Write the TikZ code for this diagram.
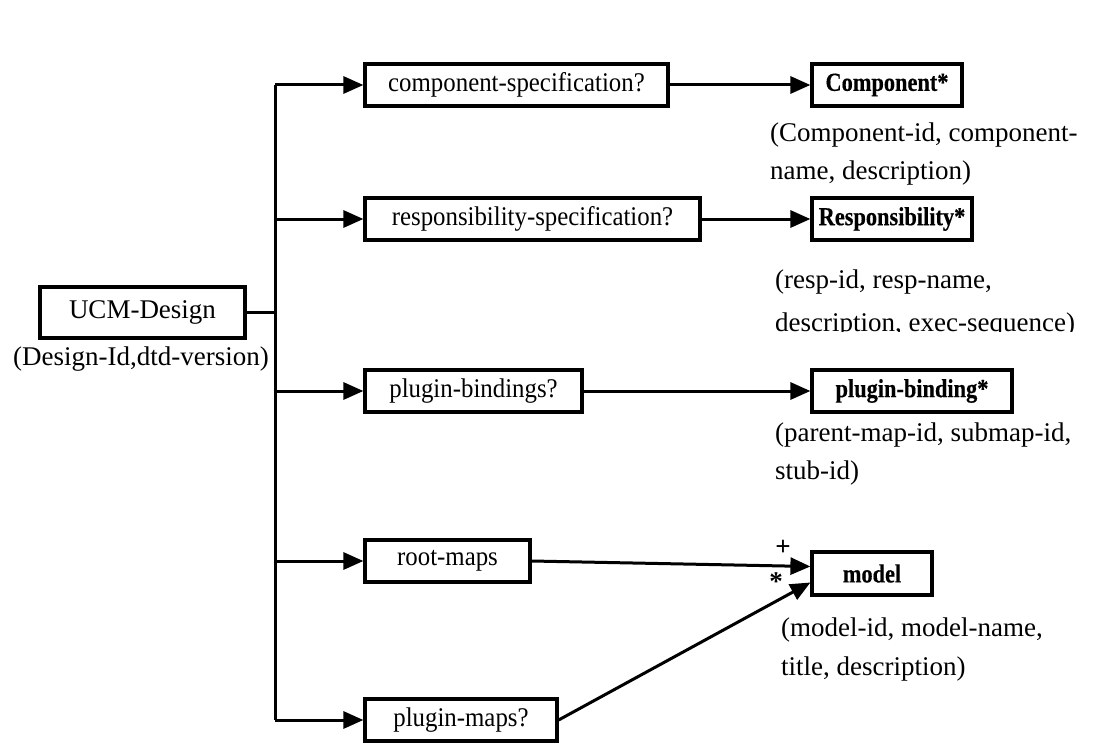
\documentclass[tikz,border=0pt]{standalone}
\usepackage{fontspec}
\setmainfont{Liberation Serif}
\newfontfamily\narrowfont[FakeStretch=0.92]{Liberation Serif}
\newfontfamily\narrowbold[FakeStretch=0.86,FakeBold=0.4]{Liberation Serif Bold}
\usetikzlibrary{arrows.meta,calc}
\begin{document}
\begin{tikzpicture}[x=1pt,y=-1pt,
  box/.style={draw,line width=3.2pt,inner sep=0pt,minimum height=42pt,font=\narrowfont\fontsize{27}{30}\selectfont},
  bbox/.style={box,font=\narrowbold\fontsize{26}{29}\selectfont},
  desc/.style={anchor=base west,inner sep=0pt,font=\fontsize{27}{30}\selectfont},
  arr/.style={line width=3pt,-{Triangle[length=20pt,width=17pt]}},
  ln/.style={line width=3pt}]
\useasboundingbox (0,0) rectangle (1094,749);
% root
\node[box,minimum width=205pt,minimum height=51pt,font=\fontsize{27}{30}\selectfont] (ucm) at (142.5,312.5) {UCM-Design};
\node[desc,anchor=base] (ucmd) at (141,365) {(Design-Id,dtd-version)};
% left column
\node[box,minimum width=303pt] (b1) at (516.5,85) {component-specification?};
\node[box,minimum width=335pt] (b2) at (532.5,219) {responsibility-specification?};
\node[box,minimum width=217pt] (b3) at (473.5,391) {plugin-bindings?};
\node[box,minimum width=165pt] (b4) at (447.5,561) {root-maps};
\node[box,minimum width=192pt] (b5) at (461,720) {plugin-maps?};
% right column
\node[bbox,minimum width=150pt] (r1) at (887,85) {Component*};
\node[bbox,minimum width=160pt] (r2) at (892,219) {Responsibility*};
\node[bbox,minimum width=200pt] (r3) at (912,391) {plugin-binding*};
\node[bbox,minimum width=120pt,minimum height=43pt] (r4) at (872,573.5) {model};
% descriptions
\node[desc] (d1a) at (770,141) {(Component-id, component-};
\node[desc] (d1b) at (770,179) {name, description)};
\node[desc] (d2a) at (775,288) {(resp-id, resp-name,};
\begin{scope}
\clip (760,300) rectangle (1094,331);
\node[desc] (d2b) at (775,331) {description, exec-sequence)};
\end{scope}
\node[desc] (d3a) at (775,441) {(parent-map-id, submap-id,};
\node[desc] (d3b) at (775,479) {stub-id)};
\node[desc] (d4a) at (781,636) {(model-id, model-name,};
\node[desc] (d4b) at (781,675) {title, description)};
% trunk
\coordinate (jtop) at (275,85);
\coordinate (jbot) at (275,720);
\draw[ln] (jtop) -- (jbot);
\draw[ln] (ucm.east) -- (ucm.east -| jtop);
\draw[arr] (b1.west -| jtop) -- (b1.west);
\draw[arr] (b2.west -| jtop) -- (b2.west);
\draw[arr] (b3.west -| jtop) -- (b3.west);
\draw[arr] (b4.west -| jtop) -- (b4.west);
\draw[arr] (b5.west -| jtop) -- (b5.west);
% to right column
\draw[arr] (b1.east) -- (b1.east -| r1.west);
\draw[arr] (b2.east) -- (b2.east -| r2.west);
\draw[arr] (b3.east) -- (b3.east -| r3.west);
\coordinate (m1) at ($(r4.west)+(0,-7)$);
\coordinate (m2) at ($(r4.west)+(0,9)$);
\draw[arr] (b4.east) -- (m1);
\draw[arr] (b5.east) -- (m2);
\node[inner sep=0pt,font=\fontsize{27}{30}\selectfont\bfseries] (plus) at (783,548) {+};
\node[inner sep=0pt,font=\fontsize{27}{30}\selectfont\bfseries] (star) at (776,582) {*};
\end{tikzpicture}
\end{document}
